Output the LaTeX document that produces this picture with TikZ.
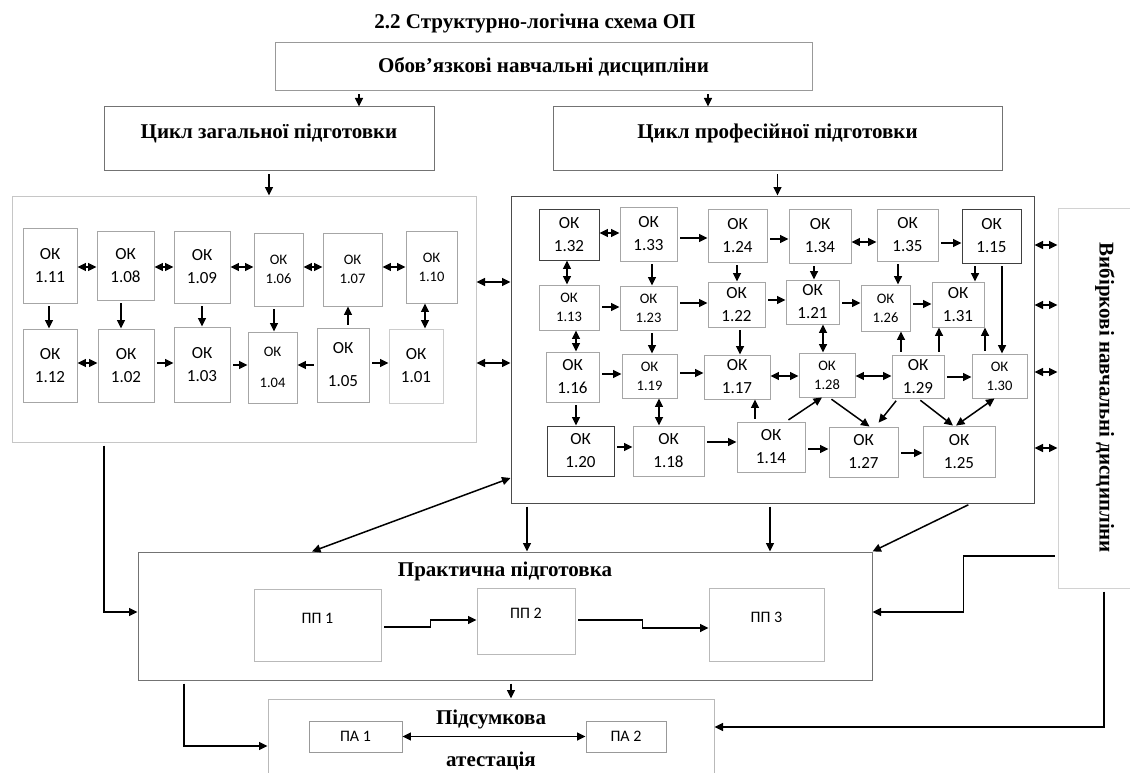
\documentclass[tikz,border=0pt]{standalone}
\usepackage{fontspec}
\usepackage{graphicx}
\setmainfont{Liberation Serif}
\newfontfamily\okfam{Carlito}
\usetikzlibrary{arrows.meta}

\tikzset{
  okbox/.style={draw=gray!70, line width=0.9pt, align=center, inner sep=0pt,
    font=\okfam\fontsize{17}{23}\selectfont},
  oksmall/.style={okbox, font=\okfam\fontsize{14.5}{19}\selectfont},
  okdark/.style={draw=black!75},
  oklight/.style={draw=gray!40},
  bigbox/.style={draw=gray!80, line width=1pt, inner sep=0pt, align=center,
    font=\bfseries\fontsize{21}{25}\selectfont},
  headtxt/.style={inner sep=0pt, align=center, font=\bfseries\fontsize{21}{25}\selectfont},
  ppbox/.style={draw=gray!55, line width=0.9pt, inner sep=0pt,
    font=\okfam\fontsize{16}{19}\selectfont},
  uptext/.style={text depth=#1pt},
  sz/.style 2 args={minimum width=#1pt, minimum height=#2pt},
  arr/.style={-{Triangle[length=8.5pt,width=8pt]}, line width=1.5pt, shorten <=3pt},
  dbl/.style={{Triangle[length=8.5pt,width=8pt]}-{Triangle[length=8.5pt,width=8pt]}, line width=1.5pt}
}

\begin{document}
\begin{tikzpicture}[x=1pt, y=-1pt]
  \useasboundingbox (0,0) rectangle (1130,773);

  % headings
  \node[headtxt] (title) at (535,23) {2.2 Структурно-логічна схема ОП};
  \node[bigbox, sz={537}{48}]  (oblig) at (543.5,67) {Обов’язкові навчальні дисципліни};
  \node[bigbox, draw=gray!90!black, uptext=15, sz={330}{64}] (cyclg) at (269,139) {Цикл загальної підготовки};
  \node[bigbox, draw=gray!90!black, uptext=15, sz={449}{64}] (cyclp) at (777.5,139) {Цикл професійної підготовки};

  % outer blocks
  \node[bigbox, draw=gray!45, sz={464}{246}] (zag) at (244,319) {};
  \node[bigbox, draw=black!70, sz={523}{307}] (prof) at (772.5,349.5) {};
  \node[bigbox, draw=gray!35, sz={94}{380}] (vyb) at (1105,398)
       {\rotatebox{-90}{Вибіркові навчальні дисципліни}};

  % general cycle
  \node[okbox, sz={54}{75}] (k111) at (50,265.5)  {ОК\\1.11};
  \node[okbox, sz={57}{69}] (k108) at (125.5,265.5) {ОК\\1.08};
  \node[okbox, sz={56}{72}] (k109) at (202,267)   {ОК\\1.09};
  \node[oksmall, sz={49}{73}] (k106) at (278.5,269.5) {ОК\\1.06};
  \node[oksmall, sz={59}{73}] (k107) at (352.5,269.5) {ОК\\1.07};
  \node[oksmall, sz={51}{72}] (k110) at (431.5,267) {ОК\\1.10};
  \node[okbox, sz={54}{73}] (k112) at (50,365.5)  {ОК\\1.12};
  \node[okbox, sz={56}{73}] (k102) at (126,365.5) {ОК\\1.02};
  \node[okbox, sz={56}{75}] (k103) at (202,364.5) {ОК\\1.03};
  \node[oksmall, sz={49}{71}] (k104) at (272.5,367.5) {ОК\\[12pt]1.04};
  \node[okbox, sz={52}{74}] (k105) at (343,365)   {ОК\\[10pt]1.05};
  \node[okbox, oklight, sz={54}{74}] (k101) at (416,366) {ОК\\1.01};

  % professional cycle
  \node[okbox, okdark, sz={60}{51}] (k132) at (569,234.5) {ОК\\1.32};
  \node[okbox, sz={57}{54}] (k133) at (648.5,234) {ОК\\1.33};
  \node[okbox, sz={59}{53}] (k124) at (737.5,235.5) {ОК\\1.24};
  \node[okbox, sz={62}{54}] (k134) at (820,236)   {ОК\\1.34};
  \node[okbox, sz={61}{52}] (k135) at (907.5,235) {ОК\\1.35};
  \node[okbox, okdark, sz={59}{54}] (k115) at (991.5,236) {ОК\\1.15};
  \node[oksmall, sz={60}{45}] (k113) at (569,307.5) {ОК\\1.13};
  \node[oksmall, sz={57}{44}] (k123) at (648.5,308) {ОК\\1.23};
  \node[okbox, sz={57}{45}] (k122) at (736.5,304.5) {ОК\\1.22};
  \node[okbox, sz={53}{44}] (k121) at (812.5,302) {ОК\\1.21};
  \node[oksmall, sz={49}{46}] (k126) at (885.5,308) {ОК\\1.26};
  \node[okbox, sz={52}{45}] (k131) at (958,304.5) {ОК\\1.31};
  \node[okbox, sz={53}{50}] (k116) at (572.5,377) {ОК\\1.16};
  \node[oksmall, sz={55}{44}] (k119) at (649.5,376) {ОК\\1.19};
  \node[okbox, sz={66}{44}] (k117) at (737,377)   {ОК\\1.17};
  \node[oksmall, sz={56}{44}] (k128) at (827,375)   {ОК\\1.28};
  \node[okbox, sz={52}{43}] (k129) at (918,376.5) {ОК\\1.29};
  \node[oksmall, sz={55}{44}] (k130) at (999.5,376) {ОК\\1.30};
  \node[okbox, okdark, sz={67}{50}] (k120) at (580.5,451) {ОК\\1.20};
  \node[okbox, sz={71}{50}] (k118) at (668.5,451) {ОК\\1.18};
  \node[okbox, sz={68}{50}] (k114) at (771,447)   {ОК\\1.14};
  \node[okbox, sz={69}{50}] (k127) at (863.5,452) {ОК\\1.27};
  \node[okbox, sz={72}{51}] (k125) at (959,451.5) {ОК\\1.25};

  % practice and attestation
  \node[bigbox, draw=gray!90!black, sz={734}{128}] (prac) at (505,616) {};
  \node[headtxt] (practxt) at (505,571) {Практична підготовка};
  \node[ppbox, uptext=14, sz={127}{72}] (pp1) at (317.5,625) {ПП 1};
  \node[ppbox, uptext=15, sz={98}{66}] (pp2) at (526,621) {ПП 2};
  \node[ppbox, uptext=14, sz={115}{73}] (pp3) at (766.5,624.5) {ПП 3};
  \node[bigbox, draw=gray!55, sz={446}{102}] (pids) at (491,750) {};
  \node[headtxt] (pidstxt) at (491,740) {Підсумкова\\[17pt]атестація};
  \node[ppbox, draw=gray!80, sz={93}{31}] (pa1) at (355.5,736.5) {ПА 1};
  \node[ppbox, draw=gray!80, sz={80}{31}] (pa2) at (626,736.5) {ПА 2};

  % top connectors
  \draw[arr] ([xshift=-184.5]oblig.south) -- ([xshift=-184.5]oblig.south |- cyclg.north);
  \draw[arr] ([xshift=164.5]oblig.south) -- ([xshift=164.5]oblig.south |- cyclp.north);
  \draw[arr] (cyclg.south) -- (cyclg.south |- zag.north);
  \draw[arr] (cyclp.south) -- (cyclp.south |- prof.north);

  % horizontal links
  \foreach \a/\b/\d in {k111/k108/-1.5, k108/k109/-1.5, k109/k106/0, k106/k107/2.5,
      k107/k110/2.5, k112/k102/2.5, k132/k133/1.5, k134/k135/-6, k117/k128/1, k128/k129/-1}
    \draw[dbl] ([yshift=\d]\a.east) -- ([yshift=\d]\a.east -| \b.west);
  \foreach \a/\b/\d in {k102/k103/2.5, k103/k104/-0.5, k105/k101/2, k133/k124/-4,
      k124/k134/-3.5, k135/k115/-8, k113/k123/0.5, k123/k122/5, k122/k121/4.5,
      k121/k126/-1, k126/k131/4, k116/k119/3, k119/k117/3, k129/k130/-0.5,
      k120/k118/4, k118/k114/9, k114/k127/-2, k127/k125/-1}
    \draw[arr] ([yshift=\d]\a.east) -- ([yshift=\d]\a.east -| \b.west);
  \draw[arr] (k105.west) -- (k105.west -| k104.east);

  % vertical links
  \foreach \a/\b/\d in {k111/k112/-1, k108/k102/-4.5, k109/k103/0, k106/k104/-4.5,
      k133/k123/3.5, k124/k122/-0.5, k134/k121/-6, k135/k126/-9.5, k115/k131/-16.5,
      k115/k130/10.5, k123/k119/3.5, k122/k117/3.5, k116/k120/3.5}
    \draw[arr] ([xshift=\d]\a.south) -- ([xshift=\d]\a.south |- \b.north);
  \foreach \a/\b/\d in {k110/k101/-6.5, k132/k113/-2, k113/k116/7, k121/k128/10.5, k119/k118/9.5}
    \draw[dbl] ([xshift=\d]\a.south) -- ([xshift=\d]\a.south |- \b.north);
  \foreach \a/\b/\d in {k105/k107/5, k129/k126/-17, k129/k131/21, k130/k131/-14.5, k114/k117/-16}
    \draw[arr] ([xshift=\d]\a.north) -- ([xshift=\d]\a.north |- \b.south);

  % diagonal links
  \draw[arr] ([xshift=15]k114.north) -- ([xshift=-5]k128.south);
  \draw[arr] ([xshift=2]k128.south) -- ([xshift=6]k127.north);
  \draw[arr, shorten >=5pt] ([xshift=-20]k129.south) -- ([xshift=12]k127.north);
  \draw[arr] (k129.south) -- ([xshift=-6]k125.north);
  \draw[dbl] ([xshift=-5]k130.south) -- ([xshift=-3]k125.north);

  % blocks
  \foreach \d in {37,-44}
    \draw[dbl] ([yshift=\d]zag.east) -- ([yshift=\d]zag.east -| prof.west);
  \foreach \d in {104.5,44.5,-22.5,-98.5}
    \draw[dbl] ([yshift=\d]prof.east) -- ([yshift=\d]prof.east -| vyb.west);
  \draw[arr] ([xshift=-140]zag.south) |- ([yshift=4]prac.west);
  \draw[dbl] ([yshift=-128.5]prof.west) -- ([xshift=-193]prac.north);
  \foreach \d in {-245.5,-2.5}
    \draw[arr] ([xshift=\d]prof.south) -- ([xshift=\d]prof.south |- prac.north);
  \draw[arr] ([xshift=198.5]prof.south) -- (prac.north east);
  \draw[arr] ([yshift=-158]vyb.west) -- ++(-94,0) |- ([yshift=4]prac.east);
  \draw[arr] ([xshift=-1]vyb.south) |- ([yshift=23]pids.east);
  \draw[arr] ([xshift=6]prac.south) -- ([xshift=6]prac.south |- pids.north);
  \draw[arr] ([xshift=-321]prac.south) |- ([yshift=4]pids.west);
  \draw[arr] ([yshift=-2]pp1.east) -- ++(49,0) |- ([yshift=1]pp2.west);
  \draw[arr] ([yshift=1]pp2.east) -- ++(67,0) |- ([yshift=-3.5]pp3.west);
  \draw[dbl] (pa1) -- (pa2);
\end{tikzpicture}
\end{document}
